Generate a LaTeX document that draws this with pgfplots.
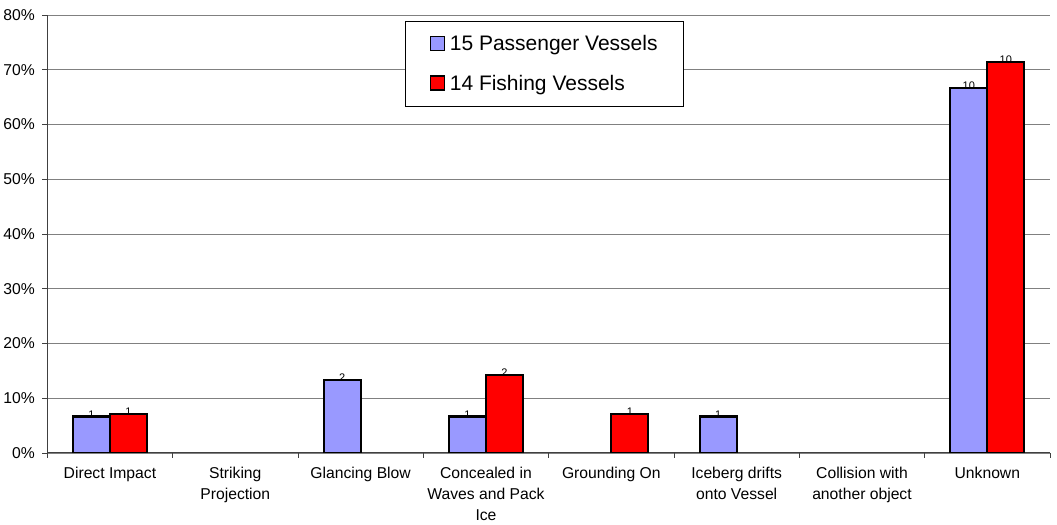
\documentclass[border=0pt]{standalone}
\usepackage{fontspec}
\setmainfont{Liberation Sans}
\usepackage{pgfplots}
\pgfplotsset{compat=1.18}
\definecolor{passenger}{HTML}{9999FF}
\definecolor{fishing}{HTML}{FF0000}
\definecolor{gridgray}{HTML}{808080}

% x = category index, y = share in percent, n = number of vessels
\pgfplotstableread{
x y n
0 6.667 1
2 13.333 2
3 6.667 1
5 6.667 1
7 66.667 10
}\passengerdata
\pgfplotstableread{
x y n
0 7.143 1
3 14.286 2
4 7.143 1
7 71.429 10
}\fishingdata

\begin{document}
\begin{tikzpicture}
\begin{axis}[
    scale only axis,
    width=1003pt, height=438pt,
    ybar=0pt,
    bar width=37pt,
    xmin=-0.5, xmax=7.5,
    ymin=0, ymax=80,
    axis lines=left,
    axis line style={-, black!75, line width=0.9pt},
    ytick={0,10,...,80},
    yticklabel={\pgfmathprintnumber{\tick}\%},
    ymajorgrids,
    grid style={gridgray, line width=0.7pt},
    xtick={0,...,7},
    major x tick style={draw=none},
    minor xtick={-0.5,0.5,...,7.5},
    minor x tick style={black!75, line width=0.8pt},
    minor tick length=5pt,
    major tick length=5pt,
    tick style={black!75, line width=0.8pt},
    tick align=outside,
    xticklabels={Direct Impact, Striking\\Projection, Glancing Blow,
      Concealed in\\Waves and Pack\\Ice, Grounding On,
      Iceberg drifts\\onto Vessel, Collision with\\another object, Unknown},
    xticklabel style={align=center, font=\fontsize{15.7}{21}\selectfont,
      anchor=north, yshift=-6pt},
    yticklabel style={font=\fontsize{15.7}{18}\selectfont, xshift=-4pt},
    /pgf/number format/assume math mode=true,
    point meta=explicit,
    nodes near coords={\pgfmathprintnumber{\pgfplotspointmeta}},
    every node near coord/.append style={font=\fontsize{11}{12}\selectfont,
      inner sep=0pt, yshift=-3pt},
    legend style={at={(0.357,0.986)}, anchor=north west, draw=black,
      line width=0.6pt, font=\fontsize{21}{25}\selectfont,
      inner xsep=24pt, inner ysep=12pt, row sep=19pt,
      /tikz/every odd column/.append style={column sep=3pt}},
    legend cell align=left,
    legend image code/.code={
      \draw[#1, line width=1.3pt] (0pt,-6.5pt) rectangle (14pt,7.5pt);},
  ]
\addplot[draw=black, fill=passenger, line width=2.2pt]
  table[x=x, y=y, meta=n] {\passengerdata};
\addplot[draw=black, fill=fishing, line width=2.2pt]
  table[x=x, y=y, meta=n] {\fishingdata};
\legend{15 Passenger Vessels, 14 Fishing Vessels}
\end{axis}
\path (current axis.north east) ++(7pt,15pt) coordinate (pad);
\end{tikzpicture}
\end{document}
